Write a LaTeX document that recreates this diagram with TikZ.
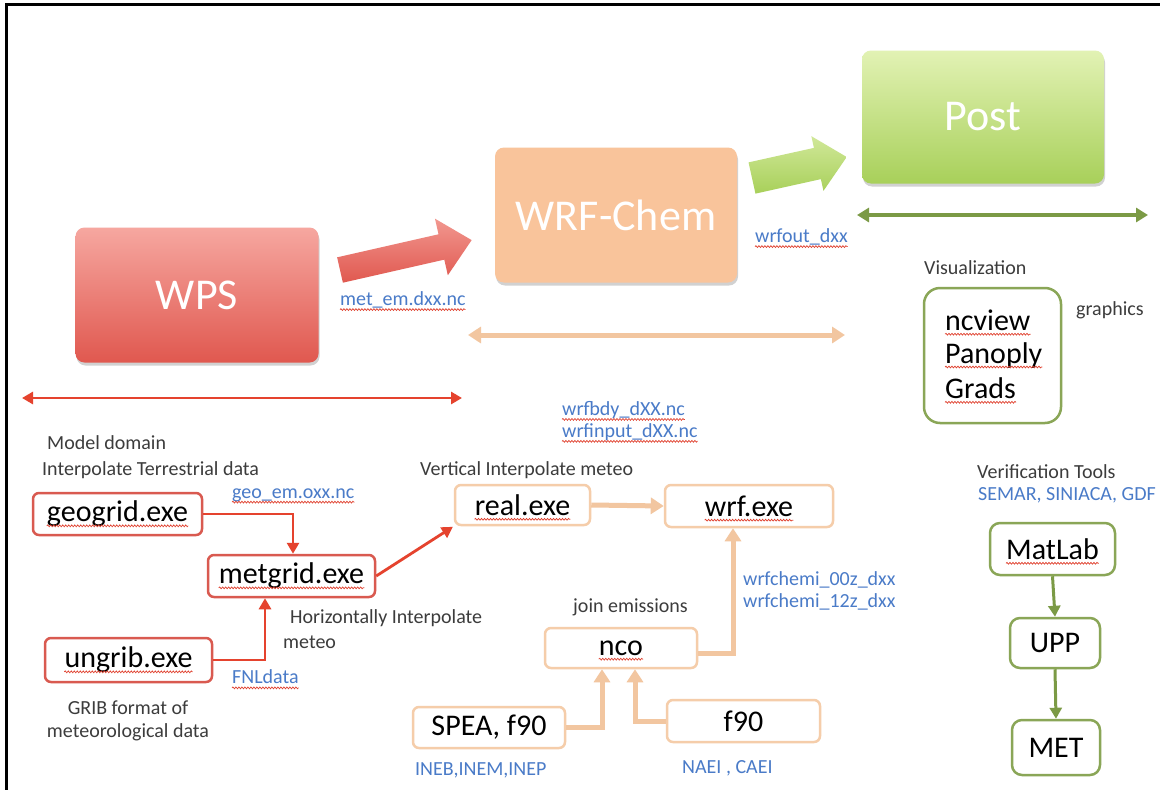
\documentclass[tikz,border=0pt]{standalone}
\usepackage{fontspec}
\setmainfont{Carlito}
\usetikzlibrary{arrows.meta,decorations.pathmorphing,shadows}
\definecolor{redline}{HTML}{E5432E}
\definecolor{redbox}{HTML}{D95A50}
\definecolor{oline}{HTML}{F2C6A0}
\definecolor{obox}{HTML}{F5CDAA}
\definecolor{gline}{HTML}{7B9A45}
\definecolor{gbox}{HTML}{8AA657}
\definecolor{bluetxt}{HTML}{4A7BC8}
\definecolor{graytxt}{HTML}{3C3C3C}
\definecolor{squigred}{HTML}{E0402E}
\definecolor{wpstop}{HTML}{F6A7A0}
\definecolor{wpsbot}{HTML}{E0584F}
\definecolor{wrffill}{HTML}{F9C49B}
\definecolor{posttop}{HTML}{E2F2B4}
\definecolor{postbot}{HTML}{A8D05A}
\newcommand\squ[1]{\draw[squig] ([yshift=-4pt]#1.base west) -- ([yshift=-4pt]#1.base east);}
\begin{document}
\begin{tikzpicture}[x=1pt,y=-1pt,
  lbl/.style={font=\fontsize{20}{24}\selectfont, text=graytxt, inner sep=0pt, anchor=west},
  blu/.style={lbl, text=bluetxt},
  btxt/.style={font=\fontsize{30}{36}\selectfont, inner sep=0pt, text=black},
  rbox/.style={draw=redbox, line width=2.5pt, rounded corners=6pt, fill=white, inner sep=0pt},
  orbox/.style={draw=obox, line width=2.5pt, rounded corners=6pt, fill=white, inner sep=0pt},
  grbox/.style={draw=gbox, line width=2.5pt, rounded corners=10pt, fill=white, inner sep=0pt},
  big/.style={rounded corners=9pt, text=white, font=\fontsize{44}{52}\selectfont, inner sep=0pt,
    drop shadow={shadow xshift=1pt, shadow yshift=-3pt, opacity=0.18, fill=black}},
  rarr/.style={draw=redline, line width=2.8pt, -{Triangle[length=11pt,width=12pt]}},
  rdbl/.style={draw=redline, line width=2.8pt, {Triangle[length=11pt,width=12pt]}-{Triangle[length=11pt,width=12pt]}},
  oarr/.style={draw=oline, line width=5pt, -{Triangle[length=13pt,width=16pt]}},
  odbl/.style={draw=oline, line width=5pt, {Triangle[length=13pt,width=16pt]}-{Triangle[length=13pt,width=16pt]}},
  garr/.style={draw=gline, line width=3pt, -{Triangle[length=11pt,width=12pt]}},
  gdbl/.style={draw=gline, line width=3.5pt, {Triangle[length=12pt,width=14pt]}-{Triangle[length=12pt,width=14pt]}},
  squig/.style={draw=squigred, line width=0.7pt, decorate, decoration={snake, amplitude=0.9pt, segment length=3pt}}
]
\useasboundingbox (0,0) rectangle (1160,790);
\fill[white] (0,0) rectangle (1160,790);
% frame
\draw[black, line width=3pt] (5,4) -- (1160,4);
\draw[black, line width=3pt] (6,4) -- (6,790);

% big boxes
\node[big, top color=wpstop, bottom color=wpsbot, minimum width=243pt, minimum height=135pt] (wps) at (197,295) {WPS};
\node[big, fill=wrffill, minimum width=242pt, minimum height=135pt] (wrfchem) at (616,215) {WRF-Chem};
\node[big, top color=posttop, bottom color=postbot, minimum width=242pt, minimum height=133pt] (post) at (983,117) {Post};

% block arrows
\begin{scope}[shift={(340,270)}, rotate=12.8]
\shade[top color=wpstop!80!wpsbot, bottom color=wpsbot] (0,-13) -- (104,-13) -- (104,-29) -- (135,0) -- (104,29) -- (104,13) -- (0,13) -- cycle;
\end{scope}
\begin{scope}[shift={(752,178)}, rotate=12.5]
\shade[top color=posttop!70!postbot, bottom color=postbot] (0,-16) -- (67,-16) -- (67,-28) -- (97,0) -- (67,28) -- (67,16) -- (0,16) -- cycle;
\end{scope}

% long double arrows
\coordinate (rl) at (22,398);
\coordinate (rr) at (462,398);
\draw[rdbl] (rl) -- (rr);
\coordinate (ol) at (468,335);
\coordinate (or) at (845,335);
\draw[odbl] (ol) -- (or);
\coordinate (gl) at (857,215);
\coordinate (gr) at (1148,215);
\draw[gdbl] (gl) -- (gr);

% top labels
\node[blu] (metem) at (340,300) {met\_em.dxx.nc}; \squ{metem}
\node[blu] (wrfout) at (755,237) {wrfout\_dxx}; \squ{wrfout}
\node[lbl] (visu) at (924,268) {Visualization};
\node[lbl] (graph) at (1076,310) {graphics};

% visualization box
\node[grbox, rounded corners=16pt, minimum width=137pt, minimum height=135pt] (ncv) at (992.5,355.5) {};
\node[btxt, anchor=west] (ncvt) at (945,320) {ncview}; \squ{ncvt}
\node[btxt, anchor=west] (pant) at (945,355) {Panoply}; \squ{pant}
\node[btxt, anchor=west] (grat) at (945,388) {Grads}; \squ{grat}

% WPS details
\node[lbl] (mdom) at (47,443) {Model domain};
\node[lbl] (iterr) at (42,470) {Interpolate Terrestrial data};
\node[rbox, minimum width=169pt, minimum height=42pt] (geo) at (117.5,514) {};
\node[btxt] (geot) at (geo) {geogrid.exe}; \squ{geot}
\node[blu] (geoem) at (232,495) {geo\_em.oxx.nc}; \squ{geoem}
\node[rbox, minimum width=167pt, minimum height=42pt] (met) at (291.5,576) {};
\node[btxt] (mett) at (met) {metgrid.exe}; \squ{mett}
\node[lbl] (hint) at (290,618) {Horizontally Interpolate};
\node[lbl] (hmet) at (283,642) {meteo};
\node[rbox, minimum width=167pt, minimum height=44pt] (ung) at (128.5,660) {};
\node[btxt] (ungt) at (ung) {ungrib.exe}; \squ{ungt}
\node[blu] (fnl) at (232,677) {FNLdata}; \squ{fnl}
\node[lbl, anchor=center] (grib1) at (128,708) {GRIB format of};
\node[lbl, anchor=center] (grib2) at (128,732) {meteorological data};

% WRF details
\node[blu] (bdy) at (562,410) {wrfbdy\_dXX.nc}; \squ{bdy}
\node[blu] (inp) at (562,432) {wrfinput\_dXX.nc}; \squ{inp}
\node[lbl] (vint) at (420,470) {Vertical Interpolate meteo};
\node[orbox, minimum width=135pt, minimum height=40pt] (real) at (522.5,505) {};
\node[btxt] (realt) at (real) {real.exe}; \squ{realt}
\node[orbox, minimum width=168pt, minimum height=42pt] (wrfexe) at (749,506) {};
\node[btxt] (wrft) at (wrfexe) {wrf.exe}; \squ{wrft}
\node[blu] (chem0) at (743,580) {wrfchemi\_00z\_dxx};
\node[blu] (chem12) at (743,602) {wrfchemi\_12z\_dxx};
\node[lbl] (join) at (573,607) {join emissions};
\node[orbox, minimum width=152pt, minimum height=40pt] (nco) at (621,648) {};
\node[btxt] (ncot) at (nco) {nco}; \squ{ncot}
\node[orbox, minimum width=152pt, minimum height=41pt] (spea) at (489,727.5) {};
\node[btxt] (speat) at (spea) {SPEA, f90};
\node[orbox, minimum width=153pt, minimum height=42pt] (f90) at (743.5,721) {};
\node[btxt] (f90t) at (f90) {f90};
\node[blu] (ineb) at (415,770) {INEB,INEM,INEP};
\node[blu] (naei) at (682,768) {NAEI , CAEI};

% verification
\node[lbl] (verif) at (977,472) {Verification Tools};
\node[blu] (semar) at (978,495) {SEMAR, SINIACA, GDF};
\node[grbox, minimum width=125pt, minimum height=52pt] (matlab) at (1052.5,549) {};
\node[btxt] (matt) at (matlab) {MatLab}; \squ{matt}
\node[grbox, minimum width=90pt, minimum height=50pt] (upp) at (1055,643) {};
\node[btxt] (uppt) at (upp) {UPP};
\node[grbox, minimum width=88pt, minimum height=55pt] (metb) at (1056,747.5) {};
\node[btxt] (metbt) at (metb) {MET};

% connectors
\draw[rarr] (geo.east) -| ([xshift=1.5pt]met.north);
\draw[rarr] (ung.east) -| ([xshift=-26.5pt]met.south);
\draw[rarr, shorten >=1pt] (met.east) -- (real.south west);
\draw[oarr] (real.east) -- (wrfexe.west);
\draw[oarr] ([yshift=-5pt]nco.east) -| ([xshift=-16pt]wrfexe.south);
\draw[oarr] (spea.east) -| ([xshift=-19pt]nco.south);
\draw[oarr] (f90.west) -| ([xshift=14pt]nco.south);
\draw[garr] (matlab.south) -- (upp.north);
\draw[garr] (upp.south) -- (metb.north);
\end{tikzpicture}
\end{document}
